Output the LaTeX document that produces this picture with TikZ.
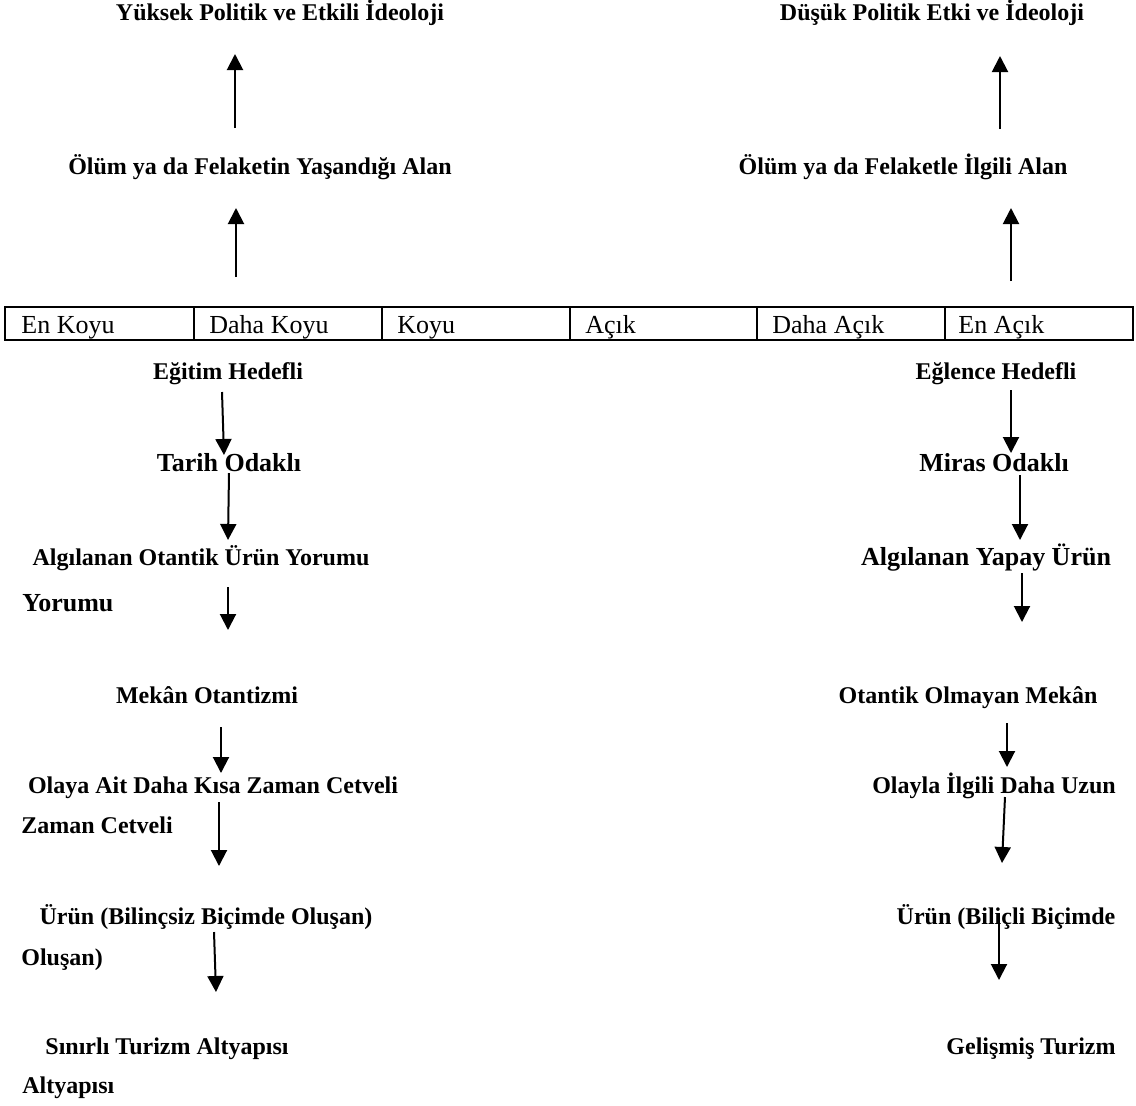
\documentclass[tikz,border=0pt]{standalone}
\usepackage{fontspec}
\setmainfont{Liberation Serif}
\usetikzlibrary{arrows.meta}
\begin{document}
\begin{tikzpicture}[x=0.5pt,y=-0.5pt,
  lbl/.style={font=\fontsize{12}{14}\selectfont\bfseries, inner sep=0pt, anchor=base},
  big/.style={font=\fontsize{13}{15}\selectfont\bfseries, inner sep=0pt, anchor=base},
  cell/.style={font=\fontsize{13}{15}\selectfont, inner sep=0pt, anchor=base west},
  arr/.style={line width=1pt, -{Triangle[width=8pt,length=8pt]}},
  tbl/.style={line width=1pt}]
\useasboundingbox (0,0) rectangle (1136,1105);

% top part
\node[lbl] (t1) at (280,20) {Yüksek Politik ve Etkili İdeoloji};
\node[lbl] (t2) at (260,174) {Ölüm ya da Felaketin Yaşandığı Alan};
\node[lbl] (t3) at (932,20) {Düşük Politik Etki ve İdeoloji};
\node[lbl] (t4) at (903,174) {Ölüm ya da Felaketle İlgili Alan};

\coordinate (a1s) at (235,128); \coordinate (a1e) at (235,54);
\coordinate (a2s) at (236,277); \coordinate (a2e) at (236,208);
\coordinate (a3s) at (1000,129); \coordinate (a3e) at (1000,56);
\coordinate (a4s) at (1011,281); \coordinate (a4e) at (1011,208);
\draw[arr] (a1s) -- (a1e);
\draw[arr] (a2s) -- (a2e);
\draw[arr] (a3s) -- (a3e);
\draw[arr] (a4s) -- (a4e);

% table
\draw[tbl] (5,307) rectangle (1133,340);
\foreach \xx in {194,382,570,757,945} \draw[tbl] (\xx,307) -- (\xx,340);
\node[cell] (k1) at (21,333) {En Koyu};
\node[cell] (k2) at (209,333) {Daha Koyu};
\node[cell] (k3) at (397,333) {Koyu};
\node[cell] (k4) at (585,333) {Açık};
\node[cell] (k5) at (772,333) {Daha Açık};
\node[cell] (k6) at (958,333) {En Açık};

% left column
\node[lbl] (l1) at (228,379) {Eğitim Hedefli};
\node[big] (l2) at (229,471) {Tarih Odaklı};
\node[lbl] (l3) at (201,565) {Algılanan Otantik Ürün Yorumu};
\node[big, anchor=base west] (l3b) at (22,611) {Yorumu};
\node[lbl] (l4) at (207,703) {Mekân Otantizmi};
\node[lbl] (l5) at (213,793) {Olaya Ait Daha Kısa Zaman Cetveli};
\node[lbl, anchor=base west] (l5b) at (21,833) {Zaman Cetveli};
\node[lbl] (l6) at (206,924) {Ürün (Bilinçsiz Biçimde Oluşan)};
\node[lbl, anchor=base west] (l6b) at (21,965) {Oluşan)};
\node[lbl] (l7) at (167,1054) {Sınırlı Turizm Altyapısı};
\node[lbl, anchor=base west] (l7b) at (22,1093) {Altyapısı};

\coordinate (b1s) at (222,392); \coordinate (b1e) at (224,455);
\coordinate (b2s) at (229,473); \coordinate (b2e) at (228,540);
\coordinate (b3s) at (228,587); \coordinate (b3e) at (228,630);
\coordinate (b4s) at (221,727); \coordinate (b4e) at (221,773);
\coordinate (b5s) at (219,802); \coordinate (b5e) at (219,866);
\coordinate (b6s) at (214,932); \coordinate (b6e) at (216,992);
\foreach \i in {1,...,6} \draw[arr] (b\i s) -- (b\i e);

% right column
\node[lbl] (r1) at (996,379) {Eğlence Hedefli};
\node[big] (r2) at (994,471) {Miras Odaklı};
\node[big] (r3) at (986,565) {Algılanan Yapay Ürün};
\node[lbl] (r4) at (968,703) {Otantik Olmayan Mekân};
\node[lbl] (r5) at (994,793) {Olayla İlgili Daha Uzun};
\node[lbl] (r6) at (1006,924) {Ürün (Biliçli Biçimde};
\node[lbl] (r7) at (1031,1054) {Gelişmiş Turizm};

\coordinate (c1s) at (1011,390); \coordinate (c1e) at (1011,453);
\coordinate (c2s) at (1020,475); \coordinate (c2e) at (1020,540);
\coordinate (c3s) at (1022,573); \coordinate (c3e) at (1022,622);
\coordinate (c4s) at (1007,723); \coordinate (c4e) at (1007,767);
\coordinate (c5s) at (1005,797); \coordinate (c5e) at (1002,863);
\coordinate (c6s) at (999,913); \coordinate (c6e) at (999,980);
\foreach \i in {1,...,6} \draw[arr] (c\i s) -- (c\i e);
\end{tikzpicture}
\end{document}
